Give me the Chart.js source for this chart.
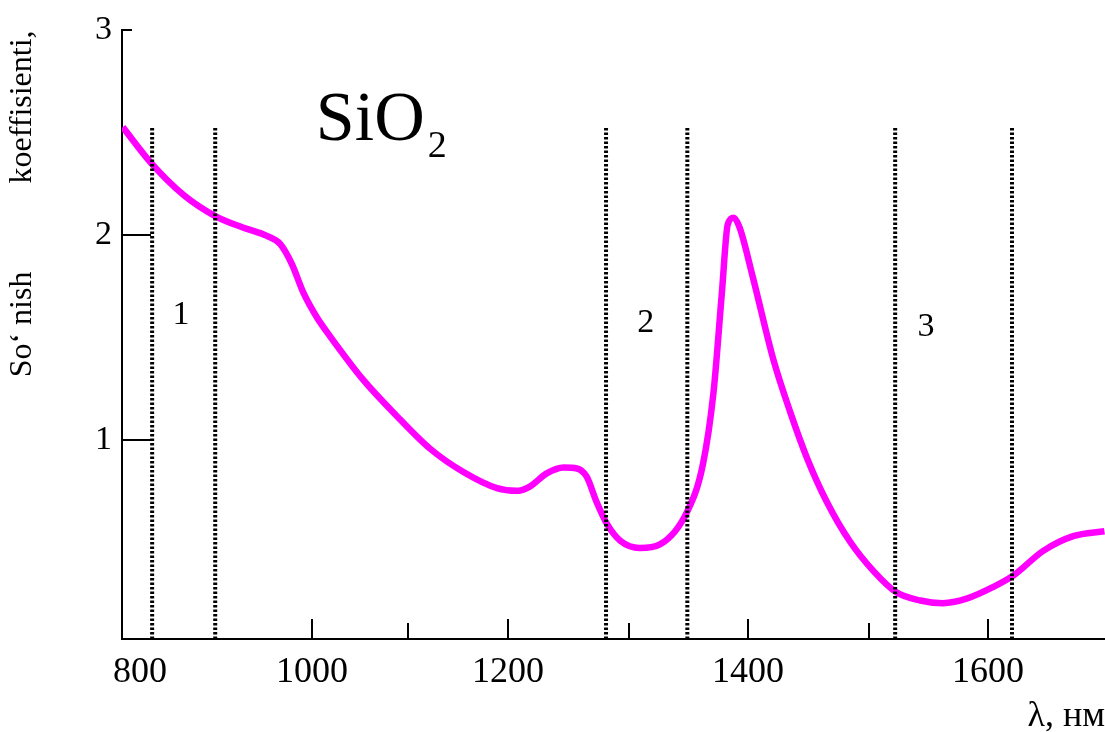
<!DOCTYPE html>
<html lang="en">
<head>
    <meta charset="utf-8">
    <title>SiO2 - So‘nish koeffisienti</title>
    <script src="https://cdn.jsdelivr.net/npm/chart.js@4"></script>
    <style>
        body { margin: 0; background: #fff; }
        .chart-container { position: relative; width: 1105px; height: 732px; }
    </style>
</head>
<body>

<div class="chart-container">
    <canvas id="lossChart"></canvas>
</div>

<script>
    // wavelength (nm) and loss coefficient
    const wavelengths = [777, 815, 857, 899, 928, 953, 967, 979, 991, 1005, 1019, 1053, 1088, 1122, 1155, 1189,
        1207, 1218, 1232, 1246, 1257, 1265, 1273, 1282, 1293, 1309, 1326, 1349, 1362, 1371, 1378, 1383,
        1388, 1393, 1404, 1421, 1435, 1449, 1465, 1484, 1504, 1523, 1543, 1562, 1582, 1604, 1621,
        1646, 1671, 1697];
    const lossValues = [2.528, 2.351, 2.198, 2.094, 2.038, 1.997, 1.957, 1.860, 1.720, 1.600, 1.506, 1.297, 1.120, 0.959, 0.846, 0.766,
        0.753, 0.774, 0.838, 0.867, 0.862, 0.822, 0.701, 0.589, 0.508, 0.474, 0.492, 0.653, 0.879, 1.232, 1.715, 2.053,
        2.086, 2.038, 1.796, 1.393, 1.136, 0.910, 0.701, 0.508, 0.360, 0.258, 0.218, 0.205, 0.227, 0.283, 0.339,
        0.460, 0.532, 0.556];

    // transparency windows (dotted lines) and their numbers
    const windowEdges = [816, 899, 1281, 1349, 1522, 1620];
    const windowTop = 2.53;
    const windowNames = ['1', '2', '3'];
    const windowNameX = [854, 1314, 1548];
    const windowNameY = [1.61, 1.57, 1.55];

    const xTickValues = [800, 1000, 1200, 1400, 1600];
    const xMinorTicks = [1100, 1300, 1500];
    const yTickValues = [1, 2, 3];

    // the wavelength axis of the original figure is not uniform,
    // so the scale is calibrated from where its ticks actually sit
    const xCalValues = [776, 800, 900, 1000, 1100, 1200, 1300, 1400, 1500, 1600, 1700];
    const xCalFractions = [0, 0.0183, 0.0956, 0.1933, 0.2909, 0.3927, 0.5158, 0.6368, 0.7599, 0.8810, 1.0031];

    function interp(v, from, to) {
        let i = 0;
        while (i < from.length - 2 && v > from[i + 1]) i++;
        const t = (v - from[i]) / (from[i + 1] - from[i]);
        return to[i] + t * (to[i + 1] - to[i]);
    }

    class CalibratedScale extends Chart.LinearScale {
        getPixelForValue(value) {
            if (value === null || value === undefined || isNaN(value)) return NaN;
            return this.getPixelForDecimal(interp(value, xCalValues, xCalFractions));
        }
        getValueForPixel(pixel) {
            return interp(this.getDecimalForPixel(pixel), xCalFractions, xCalValues);
        }
    }
    CalibratedScale.id = 'calibrated';
    CalibratedScale.defaults = Chart.LinearScale.defaults;
    Chart.register(CalibratedScale);

    const serif = 'Liberation Serif, Times New Roman, serif';

    // inward tick marks, window numbers and the SiO2 label
    const figureMarks = {
        id: 'figureMarks',
        afterDatasetsDraw(chart) {
            const { ctx, chartArea, scales: { x, y } } = chart;
            ctx.save();
            ctx.strokeStyle = '#000';
            ctx.lineWidth = 2;
            ctx.beginPath();
            xTickValues.concat(xMinorTicks).forEach(v => {
                if (v < 900) return;
                const px = Math.round(x.getPixelForValue(v));
                const len = xMinorTicks.includes(v) ? 16 : 20;
                ctx.moveTo(px, chartArea.bottom);
                ctx.lineTo(px, chartArea.bottom - len);
            });
            yTickValues.forEach(v => {
                const py = Math.round(y.getPixelForValue(v));
                const len = v === 3 ? 10 : 29;
                ctx.moveTo(chartArea.left, py);
                ctx.lineTo(chartArea.left + len, py);
            });
            ctx.stroke();

            ctx.fillStyle = '#000';
            ctx.textAlign = 'center';
            ctx.textBaseline = 'middle';
            ctx.font = '34px ' + serif;
            windowNames.forEach((name, i) => {
                ctx.fillText(name, x.getPixelForValue(windowNameX[i]), y.getPixelForValue(windowNameY[i]));
            });

            const sx = x.getPixelForValue(1004);
            const sy = y.getPixelForValue(2.464);
            ctx.textAlign = 'left';
            ctx.textBaseline = 'alphabetic';
            ctx.font = '70px ' + serif;
            ctx.fillText('SiO', sx, sy);
            const w = ctx.measureText('SiO').width;
            ctx.font = '38px ' + serif;
            ctx.fillText('2', sx + w + 3, sy + 17);
            ctx.restore();
        }
    };

    const edgeSets = windowEdges.map(edge => ({
        data: [{ x: edge, y: 0.03 }, { x: edge, y: windowTop }],
        borderColor: '#000',
        borderWidth: 4,
        borderDash: [2.6, 1.9],
        pointRadius: 0,
        order: 1
    }));

    const gap = '\u00A0'.repeat(11);

    new Chart(document.getElementById('lossChart'), {
        type: 'line',
        data: {
            datasets: [{
                data: wavelengths.map((w, i) => ({ x: w, y: lossValues[i] })),
                borderColor: '#FF00FF',
                borderWidth: 6.5,
                pointRadius: 0,
                cubicInterpolationMode: 'monotone',
                order: 2
            }].concat(edgeSets)
        },
        options: {
            responsive: true,
            maintainAspectRatio: false,
            animation: false,
            events: [],
            layout: { padding: { top: 24, right: 0, left: 0, bottom: 0 } },
            plugins: {
                legend: { display: false },
                tooltip: { enabled: false }
            },
            scales: {
                x: {
                    type: 'calibrated',
                    min: 776,
                    max: 1697.5,
                    afterBuildTicks: s => { s.ticks = xTickValues.map(v => ({ value: v })); },
                    afterFit: s => { s.height = 93; },
                    grid: { display: false, drawTicks: false },
                    border: { display: true, color: '#000', width: 2 },
                    ticks: {
                        autoSkip: false,
                        maxRotation: 0,
                        padding: 12,
                        color: '#000',
                        font: { family: serif, size: 36 },
                        callback: v => v
                    },
                    title: {
                        display: true,
                        text: 'λ, нм',
                        align: 'end',
                        color: '#000',
                        font: { family: serif, size: 36 },
                        padding: { top: 0, bottom: -6 }
                    }
                },
                y: {
                    min: 0.03,
                    max: 3,
                    afterBuildTicks: s => { s.ticks = yTickValues.map(v => ({ value: v })); },
                    afterFit: s => { s.width = 122; },
                    grid: { display: false, drawTicks: false },
                    border: { display: true, color: '#000', width: 2 },
                    ticks: {
                        padding: 10,
                        color: '#000',
                        font: { family: serif, size: 34 }
                    },
                    title: {
                        display: true,
                        text: 'So‘ nish' + gap + 'koeffisienti,',
                        align: 'end',
                        color: '#000',
                        font: { family: serif, size: 32 },
                        padding: { top: 3, bottom: 0 }
                    }
                }
            }
        },
        plugins: [figureMarks]
    });
</script>

</body>
</html>
